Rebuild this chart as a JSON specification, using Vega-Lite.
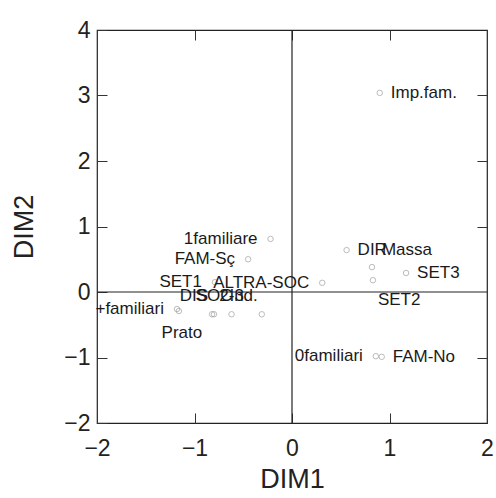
{
  "$schema": "https://vega.github.io/schema/vega-lite/v6.json",
  "width": 390,
  "height": 393,
  "autosize": {"type": "none"},
  "padding": {"left": 97, "top": 30, "right": 9, "bottom": 75},
  "background": "white",
  "config": {
    "view": {"stroke": "#222", "strokeWidth": 1.2},
    "font": "Liberation Sans",
    "axis": {"grid": false, "domain": false, "labelFont": "Liberation Sans", "titleFont": "Liberation Sans", "labelColor": "#222", "titleColor": "#222", "tickColor": "#333", "titleFontWeight": "normal"}
  },
  "data": {"values": [
    {"label": "Imp.fam.", "x": 0.90, "y": 3.04},
    {"label": "1familiare", "x": -0.22, "y": 0.81},
    {"label": "FAM-Sç", "x": -0.45, "y": 0.50},
    {"label": "SET1", "x": -0.79, "y": 0.15},
    {"label": "ALTRA-SOC", "x": 0.31, "y": 0.14},
    {"label": "DIS", "x": -0.82, "y": -0.34},
    {"label": "SOC", "x": -0.80, "y": -0.34},
    {"label": "2-3", "x": -0.62, "y": -0.34},
    {"label": "Ind.", "x": -0.31, "y": -0.34},
    {"label": "+familiari", "x": -1.18, "y": -0.26},
    {"label": "Prato", "x": -1.16, "y": -0.29},
    {"label": "DIR", "x": 0.56, "y": 0.64},
    {"label": "Massa", "x": 0.82, "y": 0.38},
    {"label": "SET2", "x": 0.83, "y": 0.18},
    {"label": "SET3", "x": 1.17, "y": 0.29},
    {"label": "0familiari", "x": 0.86, "y": -0.98},
    {"label": "FAM-No", "x": 0.92, "y": -0.99}
  ]},
  "layer": [
    {
      "data": {"values": [{}]},
      "mark": {"type": "rule", "color": "#222", "strokeWidth": 1.2},
      "encoding": {"x": {"datum": 0, "type": "quantitative", "axis": null}}
    },
    {
      "data": {"values": [{}]},
      "mark": {"type": "rule", "color": "#222", "strokeWidth": 1.2},
      "encoding": {"y": {"datum": 0, "type": "quantitative", "axis": null}}
    },
    {
      "mark": {"type": "point", "shape": "circle", "filled": false, "size": 30, "color": "#a0a0a0", "strokeWidth": 1},
      "encoding": {
        "x": {"field": "x", "type": "quantitative", "scale": {"domain": [-2, 2], "nice": false, "zero": false},
              "axis": {"orient": "bottom", "values": [-2, -1, 0, 1, 2], "tickSize": -10, "labelPadding": 24, "labelFontSize": 23, "title": "DIM1", "titleFontSize": 27, "titlePadding": 6, "labelFlush": false}},
        "y": {"field": "y", "type": "quantitative", "scale": {"domain": [-2, 4], "nice": false, "zero": false},
              "axis": {"orient": "left", "values": [-2, -1, 0, 1, 2, 3, 4], "tickSize": -10, "labelPadding": 17, "labelFontSize": 23, "title": "DIM2", "titleFontSize": 27, "titlePadding": 25, "labelFlush": false}}
      }
    },
    {
      "mark": {"type": "point", "opacity": 0},
      "encoding": {
        "x": {"field": "x", "type": "quantitative", "axis": {"orient": "top", "values": [-1, 0, 1], "tickSize": -10, "labels": false, "title": null}},
        "y": {"field": "y", "type": "quantitative", "axis": {"orient": "right", "values": [-1, 1, 2, 3], "tickSize": -10, "labels": false, "title": null}}
      }
    },
    {
      "transform": [{"filter": {"field": "label", "oneOf": ["Imp.fam.", "DIR", "SET3", "FAM-No"]}}],
      "mark": {"type": "text", "align": "left", "baseline": "middle", "dx": 11, "fontSize": 17, "color": "#1a1a1a"},
      "encoding": {"x": {"field": "x", "type": "quantitative", "axis": null}, "y": {"field": "y", "type": "quantitative", "axis": null}, "text": {"field": "label"}}
    },
    {
      "transform": [{"filter": {"field": "label", "oneOf": ["1familiare", "FAM-Sç", "SET1", "ALTRA-SOC", "+familiari", "0familiari"]}}],
      "mark": {"type": "text", "align": "right", "baseline": "middle", "dx": -13, "fontSize": 17, "color": "#1a1a1a"},
      "encoding": {"x": {"field": "x", "type": "quantitative", "axis": null}, "y": {"field": "y", "type": "quantitative", "axis": null}, "text": {"field": "label"}}
    },
    {
      "transform": [{"filter": {"field": "label", "oneOf": ["SOC", "2-3"]}}],
      "mark": {"type": "text", "align": "center", "baseline": "middle", "dy": -18, "fontSize": 17, "color": "#1a1a1a"},
      "encoding": {"x": {"field": "x", "type": "quantitative", "axis": null}, "y": {"field": "y", "type": "quantitative", "axis": null}, "text": {"field": "label"}}
    },
    {
      "transform": [{"filter": {"field": "label", "oneOf": ["DIS", "Ind."]}}],
      "mark": {"type": "text", "align": "right", "baseline": "middle", "dx": -4, "dy": -18, "fontSize": 17, "color": "#1a1a1a"},
      "encoding": {"x": {"field": "x", "type": "quantitative", "axis": null}, "y": {"field": "y", "type": "quantitative", "axis": null}, "text": {"field": "label"}}
    },
    {
      "transform": [{"filter": {"field": "label", "equal": "Prato"}}],
      "mark": {"type": "text", "align": "center", "baseline": "middle", "dx": 3, "dy": 22, "fontSize": 17, "color": "#1a1a1a"},
      "encoding": {"x": {"field": "x", "type": "quantitative", "axis": null}, "y": {"field": "y", "type": "quantitative", "axis": null}, "text": {"field": "label"}}
    },
    {
      "transform": [{"filter": {"field": "label", "equal": "SET2"}}],
      "mark": {"type": "text", "align": "left", "baseline": "middle", "dx": 5, "dy": 20, "fontSize": 17, "color": "#1a1a1a"},
      "encoding": {"x": {"field": "x", "type": "quantitative", "axis": null}, "y": {"field": "y", "type": "quantitative", "axis": null}, "text": {"field": "label"}}
    },
    {
      "transform": [{"filter": {"field": "label", "equal": "Massa"}}],
      "mark": {"type": "text", "align": "left", "baseline": "middle", "dx": 10, "dy": -17, "fontSize": 17, "color": "#1a1a1a"},
      "encoding": {"x": {"field": "x", "type": "quantitative", "axis": null}, "y": {"field": "y", "type": "quantitative", "axis": null}, "text": {"field": "label"}}
    }
  ],
  "resolve": {"axis": {"x": "independent", "y": "independent"}}
}
